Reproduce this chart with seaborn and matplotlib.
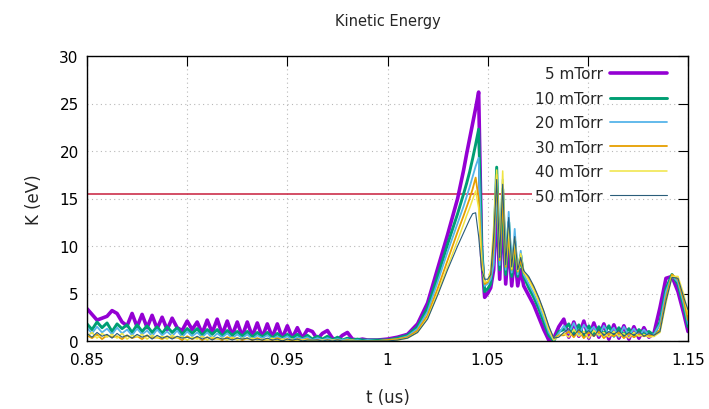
import numpy as np
import pandas as pd
import matplotlib
matplotlib.use("Agg")
import matplotlib.pyplot as plt
import seaborn as sns

# ---- time grid (us), piecewise sampling ----
t_a = np.linspace(0.85, 0.99, 57)
t_b = np.linspace(0.995, 1.035, 9)
t_c = np.linspace(1.038, 1.068, 21)
t_d = np.linspace(1.0705, 1.0855, 7)
t_e = np.linspace(1.088, 1.133, 19)
t_f = np.array([1.136, 1.139, 1.142, 1.145, 1.148, 1.15])
t = np.concatenate([t_a, t_b, t_c, t_d, t_e, t_f])

labels = ["5 mTorr", "10 mTorr", "20 mTorr", "30 mTorr", "40 mTorr", "50 mTorr"]

k05 = [3.4, 2.8, 2.2, 2.4, 2.6, 3.2, 2.9, 2.0, 1.6, 2.9,
       1.5, 2.8, 1.4, 2.7, 1.3, 2.5, 1.2, 2.4, 1.4, 1.1,
       2.1, 1.2, 2.0, 0.8, 2.2, 0.9, 2.3, 0.7, 2.1, 0.6,
       2.0, 0.5, 2.0, 0.5, 1.9, 0.4, 1.8, 0.4, 1.8, 0.3,
       1.6, 0.3, 1.4, 0.3, 1.2, 1.0, 0.2, 0.8, 1.1, 0.3,
       0.1, 0.6, 0.9, 0.2, 0.1, 0.2, 0.1,
       0.1, 0.2, 0.4, 0.7, 1.8, 4.0, 7.6, 11.2, 15.0,
       18.0, 19.7, 21.3, 22.9, 24.5, 26.2, 9.0, 4.6, 5.0, 5.6,
       7.5, 14.5, 6.5, 14.0, 6.0, 10.5, 5.8, 9.0, 5.8, 7.5, 5.8,
       4.8, 3.8, 2.5, 1.2, 0.1, 0.3, 1.5,
       2.3, 0.4, 2.0, 0.5, 2.1, 0.3, 1.9, 0.4, 1.8, 0.2,
       1.7, 0.3, 1.6, 0.2, 1.5, 0.3, 1.4, 0.4, 0.8,
       3.5, 6.6, 6.8, 5.2, 2.8, 1.0]

k10 = [1.8, 1.2, 2.0, 1.4, 1.9, 1.0, 1.8, 1.3, 1.7, 0.9,
       1.7, 1.0, 1.6, 0.9, 1.5, 0.8, 1.5, 0.9, 1.4, 0.7,
       1.3, 0.8, 1.3, 0.6, 1.2, 0.7, 1.2, 0.5, 1.1, 0.6,
       1.0, 0.5, 1.0, 0.4, 0.9, 0.4, 0.9, 0.3, 0.8, 0.3,
       0.7, 0.3, 0.7, 0.2, 0.6, 0.2, 0.5, 0.2, 0.5, 0.1,
       0.4, 0.1, 0.3, 0.1, 0.2, 0.1, 0.1,
       0.1, 0.1, 0.3, 0.6, 1.5, 3.5, 6.8, 10.2, 13.4,
       15.5, 16.6, 17.8, 19.2, 20.7, 22.3, 10.0, 5.2, 5.5, 6.0,
       9.0, 18.3, 7.5, 16.0, 7.0, 12.5, 6.8, 10.5, 6.8, 9.0, 6.8,
       5.6, 4.6, 3.4, 2.0, 0.6, 0.0, 1.0,
       1.2, 1.8, 0.6, 1.7, 0.5, 1.6, 0.6, 1.5, 0.7, 1.6,
       0.5, 1.4, 0.6, 1.3, 0.5, 1.2, 0.7, 1.0, 0.6,
       2.0, 5.5, 7.0, 6.0, 3.5, 1.5]

k20 = [1.4, 0.8, 1.5, 0.9, 1.3, 0.7, 1.4, 0.8, 1.2, 0.6,
       1.3, 0.7, 1.1, 0.5, 1.2, 0.6, 1.0, 0.5, 1.1, 0.4,
       1.0, 0.5, 0.9, 0.4, 0.9, 0.3, 0.8, 0.4, 0.8, 0.3,
       0.7, 0.3, 0.7, 0.2, 0.6, 0.3, 0.6, 0.2, 0.5, 0.2,
       0.5, 0.1, 0.4, 0.2, 0.4, 0.1, 0.3, 0.1, 0.3, 0.1,
       0.2, 0.1, 0.2, 0.0, 0.1, 0.0, 0.1,
       0.0, 0.1, 0.2, 0.5, 1.3, 3.1, 6.2, 9.4, 12.4,
       14.2, 15.2, 16.2, 17.3, 18.4, 19.3, 9.5, 5.8, 6.0, 6.5,
       8.0, 16.5, 8.0, 17.0, 7.5, 13.6, 7.2, 11.8, 7.0, 9.5, 7.0,
       6.0, 5.0, 3.8, 2.4, 0.9, 0.1, 0.8,
       1.6, 0.8, 1.9, 0.6, 1.7, 0.9, 1.5, 0.5, 1.6, 0.7,
       1.4, 0.4, 1.5, 0.6, 1.3, 0.5, 1.2, 0.6, 0.7,
       1.8, 5.2, 6.9, 6.2, 3.8, 1.8]

k30 = [0.6, 0.3, 0.7, 0.2, 0.6, 0.4, 0.5, 0.2, 0.6, 0.3,
       0.5, 0.2, 0.6, 0.3, 0.4, 0.2, 0.5, 0.3, 0.4, 0.1,
       0.5, 0.2, 0.4, 0.1, 0.4, 0.2, 0.3, 0.1, 0.4, 0.2,
       0.3, 0.1, 0.3, 0.1, 0.3, 0.1, 0.2, 0.1, 0.3, 0.1,
       0.2, 0.0, 0.2, 0.1, 0.2, 0.0, 0.1, 0.0, 0.1, 0.0,
       0.1, 0.0, 0.1, 0.0, 0.0, 0.0, 0.0,
       0.0, 0.1, 0.2, 0.4, 1.1, 2.7, 5.5, 8.5, 11.5,
       13.2, 14.1, 15.0, 16.0, 17.2, 15.0, 8.5, 6.0, 6.2, 7.0,
       10.0, 17.5, 8.5, 15.0, 7.8, 11.0, 7.5, 10.0, 7.3, 8.5, 7.2,
       6.6, 5.6, 4.4, 3.0, 1.4, 0.2, 0.6,
       0.6, 1.0, 0.4, 1.1, 0.3, 0.9, 0.5, 1.0, 0.3, 0.8,
       0.5, 0.9, 0.3, 0.8, 0.4, 0.7, 0.5, 0.6, 0.5,
       1.2, 4.5, 7.0, 6.5, 4.2, 2.2]

k40 = [0.5, 0.9, 0.3, 0.8, 0.4, 0.7, 0.3, 0.8, 0.2, 0.6,
       0.4, 0.7, 0.2, 0.6, 0.3, 0.5, 0.2, 0.6, 0.3, 0.5,
       0.1, 0.4, 0.2, 0.5, 0.1, 0.4, 0.2, 0.3, 0.1, 0.4,
       0.1, 0.3, 0.2, 0.3, 0.1, 0.2, 0.1, 0.3, 0.0, 0.2,
       0.1, 0.2, 0.0, 0.1, 0.1, 0.1, 0.0, 0.1, 0.0, 0.1,
       0.0, 0.0, 0.0, 0.1, 0.0, 0.0, 0.0,
       0.0, 0.0, 0.1, 0.3, 0.9, 2.4, 5.0, 7.8, 10.6,
       12.3, 13.2, 14.0, 14.9, 15.8, 14.0, 8.0, 6.2, 6.3, 7.5,
       12.0, 18.0, 9.0, 17.9, 8.0, 12.0, 7.6, 10.8, 7.4, 9.2, 7.3,
       6.4, 5.4, 4.2, 2.8, 1.2, 0.1, 0.5,
       0.8, 0.4, 1.2, 0.5, 1.0, 0.3, 1.1, 0.6, 0.9, 0.4,
       1.0, 0.5, 0.8, 0.3, 0.9, 0.5, 0.7, 0.4, 0.5,
       0.9, 4.0, 6.8, 6.8, 4.8, 2.8]

k50 = [0.8, 0.4, 0.9, 0.5, 0.7, 0.3, 0.8, 0.4, 0.6, 0.3,
       0.7, 0.4, 0.6, 0.2, 0.6, 0.3, 0.5, 0.2, 0.5, 0.3,
       0.4, 0.2, 0.5, 0.2, 0.4, 0.1, 0.4, 0.2, 0.3, 0.1,
       0.3, 0.2, 0.3, 0.1, 0.2, 0.1, 0.3, 0.1, 0.2, 0.0,
       0.2, 0.1, 0.2, 0.0, 0.1, 0.1, 0.1, 0.0, 0.1, 0.0,
       0.1, 0.0, 0.0, 0.0, 0.0, 0.0, 0.0,
       0.0, 0.0, 0.1, 0.3, 0.9, 2.3, 4.8, 7.5, 10.0,
       11.4, 12.1, 12.8, 13.4, 13.5, 11.0, 7.5, 6.5, 6.5, 7.0,
       11.0, 17.0, 8.8, 16.5, 8.0, 13.0, 7.8, 11.0, 7.5, 8.8, 7.4,
       6.8, 5.8, 4.6, 3.2, 1.6, 0.3, 0.4,
       0.9, 1.3, 0.6, 1.2, 0.7, 1.1, 0.5, 1.2, 0.6, 1.0,
       0.7, 1.1, 0.5, 0.9, 0.6, 1.0, 0.5, 0.8, 0.6,
       1.0, 4.2, 6.7, 6.6, 4.5, 3.3]

threshold = 15.5
threshold_end = 1.072

series = [k05, k10, k20, k30, k40, k50]
for s in series:
    assert len(s) == len(t), len(s)

frames = []
for lab, vals in zip(labels, series):
    frames.append(pd.DataFrame({"t": t, "K": vals, "p": lab}))
df = pd.concat(frames, ignore_index=True)

colors = ["#9400D3", "#009E73", "#56B4E9", "#E69F00", "#F0E442", "#2a5d7a"]
widths = [2.6, 2.1, 1.3, 1.3, 1.1, 0.8]

sns.set_theme(style="white")
plt.rcParams["font.family"] = ["DejaVu Sans"]

fig = plt.figure(figsize=(7.09, 4.10), dpi=100)
ax = fig.add_axes([87/709, (410-342)/410, (688-87)/709, (342-57)/410])

ax.hlines(threshold, 0.85, threshold_end, color="#c81e3c", linewidth=1.1, zorder=1)

for lab, c, lw in zip(labels, colors, widths):
    sns.lineplot(data=df[df["p"] == lab], x="t", y="K", color=c, linewidth=lw,
                 label=lab, ax=ax, sort=False, estimator=None, zorder=2)

ax.set_xlim(0.85, 1.15)
ax.set_ylim(0, 30)
xt = [0.85, 0.9, 0.95, 1.0, 1.05, 1.1, 1.15]
ax.set_xticks(xt)
ax.set_xticklabels(["0.85", "0.9", "0.95", "1", "1.05", "1.1", "1.15"])
ax.set_yticks([0, 5, 10, 15, 20, 25, 30])
ax.grid(True, color="#b8b8b8", linestyle=(0, (1, 3)), linewidth=0.8)
ax.tick_params(direction="in", top=True, right=True, length=7, width=0.8,
               labelsize=11, colors="black", pad=6)
ax.tick_params(axis="x", pad=8)
for sp in ax.spines.values():
    sp.set_color("black")
    sp.set_linewidth(1.0)

ax.set_title("Kinetic Energy", fontsize=10.5, pad=22)
ax.set_xlabel("t (us)", fontsize=12, labelpad=15)
ax.set_ylabel("K (eV)", fontsize=12, labelpad=12)

leg = ax.legend(loc="upper right", bbox_to_anchor=(0.975, 0.985), frameon=False,
                markerfirst=False, fontsize=11, handlelength=3.7, handletextpad=0.5,
                labelspacing=0.62, borderaxespad=0)

fig.savefig("out.png", dpi=100)
